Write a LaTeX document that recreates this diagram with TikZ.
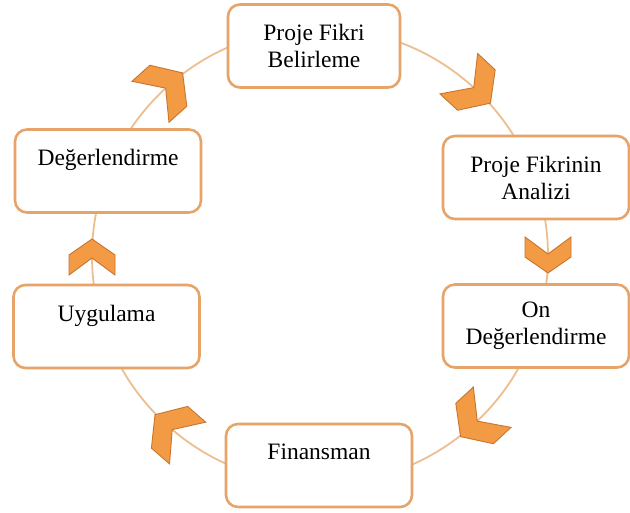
\documentclass[tikz,border=0pt]{standalone}
\usepackage{fontspec}
\setmainfont{Liberation Serif}
\definecolor{boxline}{HTML}{E6A469}
\definecolor{ringline}{HTML}{EDBE92}
\definecolor{chevfill}{HTML}{F39A45}
\definecolor{chevline}{HTML}{C8752E}

\begin{document}
\begin{tikzpicture}[x=1pt, y=1pt,
    stage/.style={draw=boxline, line width=2.6pt, fill=white, rounded corners=12pt,
      minimum width=186pt, minimum height=83pt, align=center,
      font=\fontsize{23.5}{27}\selectfont},
    ring/.style={draw=ringline, line width=1.8pt},
    chevron/.style={fill=chevfill, draw=chevline, line width=0.9pt, line join=miter}]
  \useasboundingbox[fill=white] (0,0) rectangle (630,513);

  % Ring behind the stages
  \coordinate (c) at (320,257);
  \draw[ring] (c) circle (228);

  % Stages
  \node[stage, minimum width=172pt] (belirleme) at (314,467) {Proje Fikri\\Belirleme};
  \node[stage] (analiz) at (536,335.5) {Proje Fikrinin\\Analizi};
  \node[stage] (ondeger) at (536,187) {On\\Değerlendirme};
  \node[stage] (finansman) at (319,47.5) {Finansman\\\mbox{}};
  \node[stage] (uygulama) at (106.5,186.5) {Uygulama\\\mbox{}};
  \node[stage] (degerlendirme) at (108,342) {Değerlendirme\\\mbox{}};

  % Chevrons along the ring, clockwise
  \begin{scope}[shift={(c)}]
    \draw[chevron, shift={(47:228)}, rotate=-43, scale=1.2] (17,0) -- (1,23) -- (-19,23) -- (-2,0) -- (-19,-23) -- (1,-23) -- cycle;
    \draw[chevron, shift={(0:228)}, rotate=-90] (17,0) -- (1,23) -- (-19,23) -- (-2,0) -- (-19,-23) -- (1,-23) -- cycle;
    \draw[chevron, shift={(-47:228)}, rotate=-137, scale=1.2] (17,0) -- (1,23) -- (-19,23) -- (-2,0) -- (-19,-23) -- (1,-23) -- cycle;
    \draw[chevron, shift={(229:228)}, rotate=139, scale=1.2] (17,0) -- (1,23) -- (-19,23) -- (-2,0) -- (-19,-23) -- (1,-23) -- cycle;
    \draw[chevron, shift={(180:228)}, rotate=90] (17,0) -- (1,23) -- (-19,23) -- (-2,0) -- (-19,-23) -- (1,-23) -- cycle;
    \draw[chevron, shift={(132:228)}, rotate=42, scale=1.2] (17,0) -- (1,23) -- (-19,23) -- (-2,0) -- (-19,-23) -- (1,-23) -- cycle;
  \end{scope}
\end{tikzpicture}
\end{document}
